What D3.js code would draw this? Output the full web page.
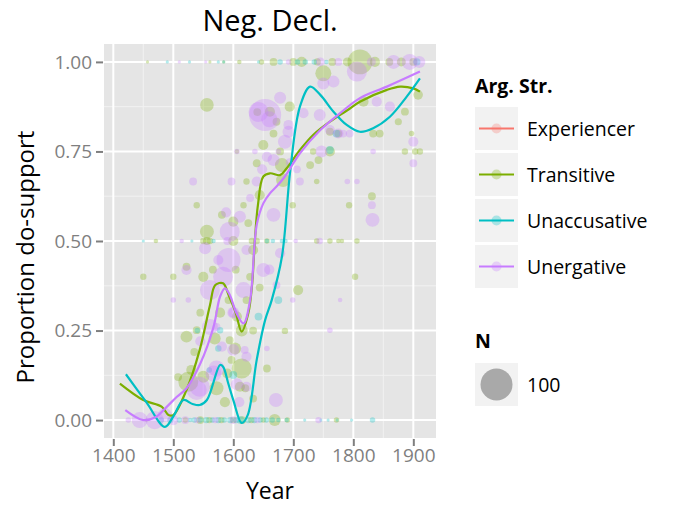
<!DOCTYPE html>
<html>
<head>
<meta charset="utf-8">
<script src="https://cdn.jsdelivr.net/npm/d3@7"></script>
<style>
  body { margin: 0; background: #fff; }
  svg { display: block; font-family: "Open Sans", Lato, sans-serif; }
</style>
</head>
<body>
<div id="chart"></div>
<script>
const title = 'Neg. Decl.'
const xTicks = [1400, 1500, 1600, 1700, 1800, 1900]
const yTicks = [0, 0.25, 0.5, 0.75, 1]
const categories = ['Experiencer', 'Transitive', 'Unaccusative', 'Unergative']
const colors = ['#F8766D', '#7CAE00', '#00BFC4', '#C77CFF']
const sizeLegend = [100]

// points: [year, proportion, N]
const experiencerPts = []
const transitivePts = [
  [1457, 1, 1], [1561, 1, 1], [1584, 1, 1], [1610, 1, 2], [1647, 1, 3], [1667, 1, 6], [1700, 1, 6], [1714, 1, 10],
  [1740, 1, 5], [1765, 1, 6], [1790, 1, 8], [1811, 1, 60], [1836, 1, 10], [1860, 1, 6], [1880, 1, 8], [1900, 1, 6],
  [1750, 0.968, 25], [1908, 0.908, 9], [1886, 0.861, 6], [1875, 0.833, 5], [1817, 0.889, 10], [1833, 0.8, 6],
  [1844, 0.8, 6], [1761, 0.805, 6], [1897, 0.8, 3], [1556, 0.88, 18], [1694, 0.875, 10], [1650, 0.768, 10],
  [1667, 0.8, 6], [1661, 0.861, 10], [1640, 0.86, 6], [1728, 0.712, 6], [1742, 0.726, 6], [1761, 0.75, 10],
  [1775, 0.8, 6], [1639, 0.717, 6], [1681, 0.712, 19], [1672, 0.833, 6], [1678, 0.75, 6],
  [1886, 0.75, 4], [1903, 0.75, 4], [1911, 0.75, 4], [1733, 0.75, 4], [1606, 0.75, 2],
  [1539, 0.6, 4], [1450, 0.4, 4], [1500, 0.4, 4], [1522, 0.428, 6], [1556, 0.526, 19], [1581, 0.573, 6],
  [1600, 0.554, 10], [1622, 0.666, 4], [1617, 0.6, 4], [1644, 0.628, 10], [1699, 0.6, 4], [1739, 0.666, 3],
  [1793, 0.6, 4], [1831, 0.625, 6], [1803, 0.4, 4], [1708, 0.363, 10], [1683, 0.67, 19],
  [1471, 0.5, 2], [1550, 0.5, 4], [1556, 0.5, 6], [1561, 0.5, 4], [1600, 0.5, 10], [1631, 0.5, 4], [1639, 0.5, 4],
  [1656, 0.5, 3], [1739, 0.5, 3], [1761, 0.5, 3], [1775, 0.5, 2], [1781, 0.5, 2], [1806, 0.5, 3],
  [1550, 0.4, 10], [1522, 0.233, 14], [1539, 0.251, 6], [1569, 0.228, 14], [1594, 0.223, 6], [1603, 0.2, 14],
  [1614, 0.25, 14], [1606, 0.289, 10], [1592, 0.335, 6], [1622, 0.335, 6], [1633, 0.25, 6], [1644, 0.37, 6],
  [1656, 0.144, 6], [1614, 0.144, 39], [1525, 0.107, 39], [1550, 0.121, 14], [1572, 0.089, 19], [1597, 0.168, 6],
  [1633, 0.475, 10], [1628, 0.4, 6], [1611, 0.093, 10], [1686, 0.249, 4], [1620, 0.089, 6], [1530, 0.14, 10],
  [1508, 0.12, 6], [1545, 0.3, 6], [1578, 0.3, 10], [1586, 0.05, 10], [1633, 0.06, 6], [1566, 0.42, 6],
  [1604, 0.42, 6], [1625, 0.55, 6], [1535, 0.19, 6], [1590, 0.13, 10],
  [1455, 0, 1], [1520, 0, 3], [1545, 0, 6], [1560, 0, 4], [1600, 0, 4], [1615, 0, 6], [1669, 0, 14], [1690, 0, 3],
  [1772, 0, 3], [1580, 0, 4], [1630, 0, 4], [1650, 0, 3]
]
const unaccusativePts = [
  [1480, 0, 3], [1495, 0, 4], [1510, 0, 3], [1528, 0, 2], [1535, 0, 3], [1545, 0, 3], [1555, 0, 4], [1565, 0, 3],
  [1575, 0, 4], [1585, 0, 3], [1595, 0, 4], [1605, 0, 4], [1612, 0, 6], [1625, 0, 4], [1635, 0, 4], [1645, 0, 3],
  [1655, 0, 3], [1665, 0, 3], [1675, 0, 2], [1689, 0, 2], [1719, 0, 1], [1746, 0, 1], [1758, 0, 1], [1773, 0, 1],
  [1797, 0, 1], [1832, 0, 3],
  [1450, 0.5, 1], [1531, 0.5, 1], [1567, 0.5, 2], [1656, 0.5, 2], [1666, 0.5, 2], [1681, 0.5, 2], [1687, 0.5, 2],
  [1490, 1, 1], [1527, 1, 1], [1575, 1, 1], [1584, 1, 1], [1642, 1, 1], [1678, 1, 3], [1707, 1, 3], [1720, 1, 3],
  [1735, 1, 3], [1755, 1, 2], [1906, 1, 5],
  [1675, 0.335, 6], [1578, 0.251, 4], [1575, 0.2, 4], [1642, 0.289, 6], [1600, 0.126, 6], [1772, 0.8, 6],
  [1761, 0.754, 6], [1540, 0.25, 3], [1560, 0.14, 3]
]
const unergativePts = [
  [1510, 1, 1], [1554, 1, 1], [1692, 1, 3], [1745, 1, 8], [1775, 1, 6], [1830, 1, 8], [1867, 1, 19], [1894, 1, 25],
  [1910, 1, 14],
  [1806, 0.973, 39], [1750, 0.94, 14], [1767, 0.945, 14], [1861, 0.875, 10], [1839, 0.889, 10], [1794, 0.8, 6],
  [1775, 0.8, 10], [1900, 0.777, 10], [1900, 0.717, 6],
  [1653, 0.852, 100], [1642, 0.86, 39], [1660, 0.84, 25], [1678, 0.9, 14], [1692, 0.805, 14], [1686, 0.777, 19],
  [1667, 0.726, 14], [1656, 0.735, 10], [1717, 0.857, 10], [1744, 0.852, 14], [1761, 0.81, 10], [1747, 0.75, 14],
  [1783, 0.8, 6], [1692, 0.824, 10], [1694, 0.72, 6], [1706, 0.7, 6], [1648, 0.7, 10],
  [1606, 0.75, 3], [1636, 0.75, 3], [1675, 0.75, 3], [1833, 0.75, 3],
  [1594, 0.526, 39], [1592, 0.447, 56], [1611, 0.568, 14], [1667, 0.573, 19], [1678, 0.466, 10], [1533, 0.666, 6],
  [1597, 0.666, 6], [1639, 0.666, 10], [1711, 0.666, 6], [1806, 0.666, 3], [1790, 0.666, 3], [1831, 0.6, 6],
  [1832, 0.559, 19], [1622, 0.475, 10], [1650, 0.419, 19], [1660, 0.42, 10], [1672, 0.377, 6], [1575, 0.447, 10],
  [1522, 0.419, 10], [1500, 0.335, 3], [1525, 0.335, 3], [1699, 0.335, 3], [1778, 0.335, 2], [1583, 0.4, 39],
  [1561, 0.363, 39], [1617, 0.363, 25], [1600, 0.3, 14], [1553, 0.48, 14],
  [1514, 0.5, 2], [1704, 0.5, 2], [1744, 0.5, 4], [1590, 0.5, 6],
  [1600, 0.196, 14], [1572, 0.144, 25], [1622, 0.177, 10], [1539, 0.084, 39], [1606, 0.1, 14], [1561, 0.26, 25],
  [1581, 0.205, 10], [1622, 0.093, 10], [1567, 0.13, 25], [1544, 0.093, 39], [1671, 0.056, 19], [1619, 0.196, 6],
  [1656, 0.2, 3], [1761, 0.251, 3], [1572, 0.26, 6], [1600, 0.3, 10], [1588, 0.58, 10], [1628, 0.62, 6],
  [1545, 0.22, 10], [1610, 0.05, 10],
  [1425, 0, 3], [1444, 0, 25], [1469, 0, 32], [1486, 0.014, 19], [1500, 0, 10], [1520, 0, 6], [1600, 0, 6], [1742, 0, 4],
  [1540, 0, 4], [1570, 0, 4], [1640, 0, 4]
]

// smoothed lines: [year, proportion]
const experiencerLine = []
const transitiveLine = [
  [1411, 0.102], [1450, 0.056], [1481, 0.037], [1492, 0.014], [1500, 0.014], [1522, 0.084], [1544, 0.196],
  [1561, 0.32], [1570, 0.377], [1583, 0.382], [1592, 0.35], [1604, 0.3], [1614, 0.247], [1625, 0.298],
  [1631, 0.372], [1636, 0.503], [1641, 0.6], [1650, 0.68], [1661, 0.689], [1678, 0.684], [1689, 0.703],
  [1711, 0.754], [1733, 0.796], [1761, 0.833], [1790, 0.865], [1811, 0.889], [1856, 0.922], [1878, 0.931],
  [1900, 0.926], [1911, 0.917]
]
const unaccusativeLine = [
  [1421, 0.128], [1455, 0.05], [1486, -0.019], [1500, 0.01], [1517, 0.056], [1532, 0.045], [1544, 0.042],
  [1556, 0.056], [1578, 0.154], [1583, 0.149], [1592, 0.1], [1600, 0.056], [1614, -0.008], [1624, 0.014],
  [1639, 0.168], [1653, 0.279], [1664, 0.335], [1681, 0.456], [1695, 0.698], [1711, 0.875], [1728, 0.931],
  [1745, 0.908], [1767, 0.861], [1789, 0.824], [1811, 0.805], [1833, 0.815], [1861, 0.847], [1889, 0.903],
  [1911, 0.954]
]
const unergativeLine = [
  [1420, 0.028], [1450, 0.0], [1470, 0.008], [1489, 0.037], [1506, 0.065], [1522, 0.089], [1545, 0.158],
  [1567, 0.26], [1578, 0.345], [1586, 0.368], [1594, 0.35], [1605, 0.3], [1617, 0.27], [1628, 0.335],
  [1639, 0.545], [1650, 0.605], [1661, 0.633], [1672, 0.652], [1686, 0.68], [1711, 0.745], [1745, 0.81],
  [1778, 0.857], [1811, 0.899], [1856, 0.931], [1911, 0.973]
]

const pointSets = [experiencerPts, transitivePts, unaccusativePts, unergativePts]
const lineSets = [experiencerLine, transitiveLine, unaccusativeLine, unergativeLine]

const width = 674, height = 508
const panel = { left: 104, right: 436, top: 44, bottom: 438 }

const x = d3.scaleLinear().domain([1384.5, 1937.8]).range([panel.left, panel.right])
const y = d3.scaleLinear().domain([-0.05, 1.05]).range([panel.bottom, panel.top])
const r = d3.scaleSqrt().domain([0, 100]).range([0, 16])
const color = d3.scaleOrdinal().domain(categories).range(colors)

const svg = d3.select('#chart').append('svg')
  .attr('width', width)
  .attr('height', height)
  .attr('viewBox', `0 0 ${width} ${height}`)

// panel background + grid
svg.append('rect')
  .attr('x', panel.left).attr('y', panel.top)
  .attr('width', panel.right - panel.left).attr('height', panel.bottom - panel.top)
  .attr('fill', '#e5e5e5')

const minorX = [1450, 1550, 1650, 1750, 1850]
const minorY = [0.125, 0.375, 0.625, 0.875]
const grid = svg.append('g')
grid.selectAll('.minx').data(minorX).join('line')
  .attr('x1', d => x(d)).attr('x2', d => x(d))
  .attr('y1', panel.top).attr('y2', panel.bottom)
  .attr('stroke', '#f2f2f2').attr('stroke-width', 1)
grid.selectAll('.miny').data(minorY).join('line')
  .attr('y1', d => y(d)).attr('y2', d => y(d))
  .attr('x1', panel.left).attr('x2', panel.right)
  .attr('stroke', '#f2f2f2').attr('stroke-width', 1)
grid.selectAll('.majx').data(xTicks).join('line')
  .attr('x1', d => x(d)).attr('x2', d => x(d))
  .attr('y1', panel.top).attr('y2', panel.bottom)
  .attr('stroke', '#fff').attr('stroke-width', 2)
grid.selectAll('.majy').data(yTicks).join('line')
  .attr('y1', d => y(d)).attr('y2', d => y(d))
  .attr('x1', panel.left).attr('x2', panel.right)
  .attr('stroke', '#fff').attr('stroke-width', 2)

// points
const pts = []
pointSets.forEach((set, i) => {
  set.forEach(p => pts.push({ year: p[0], prop: p[1], n: p[2], cat: categories[i] }))
})
svg.append('g').selectAll('circle')
  .data(pts)
  .join('circle')
  .attr('cx', d => x(d.year))
  .attr('cy', d => y(d.prop))
  .attr('r', d => Math.max(1.5, r(d.n)))
  .attr('fill', d => color(d.cat))
  .attr('fill-opacity', 0.3)

// smooth lines
const line = d3.line()
  .x(d => x(d[0]))
  .y(d => y(d[1]))
  .curve(d3.curveCatmullRom.alpha(0.5))
svg.append('g').selectAll('path')
  .data(lineSets.map((l, i) => ({ cat: categories[i], values: l })).filter(d => d.values.length))
  .join('path')
  .attr('d', d => line(d.values))
  .attr('fill', 'none')
  .attr('stroke', d => color(d.cat))
  .attr('stroke-width', 2.2)

// axes
const xAxis = svg.append('g')
  .attr('transform', `translate(0,${panel.bottom})`)
  .call(d3.axisBottom(x).tickValues(xTicks).tickFormat(d3.format('d')).tickSize(8).tickPadding(3))
const yAxis = svg.append('g')
  .attr('transform', `translate(${panel.left},0)`)
  .call(d3.axisLeft(y).tickValues(yTicks).tickFormat(d3.format('.2f')).tickSize(8).tickPadding(4))
;[xAxis, yAxis].forEach(a => {
  a.select('.domain').remove()
  a.selectAll('.tick line').attr('stroke', '#7f7f7f').attr('stroke-width', 2)
  a.selectAll('.tick text').attr('fill', '#7f7f7f').attr('font-size', 19).attr('font-family', '"Open Sans", sans-serif')
})
xAxis.selectAll('.tick line').attr('y1', 1)
yAxis.selectAll('.tick line').attr('x1', -1)

// titles
svg.append('text')
  .attr('x', (panel.left + panel.right) / 2).attr('y', 31)
  .attr('text-anchor', 'middle').attr('font-size', 29)
  .text(title)
svg.append('text')
  .attr('x', (panel.left + panel.right) / 2).attr('y', 499)
  .attr('text-anchor', 'middle').attr('font-size', 23)
  .text('Year')
svg.append('text')
  .attr('transform', `translate(34,${(panel.top + panel.bottom) / 2 + 16}) rotate(-90)`)
  .attr('text-anchor', 'middle').attr('font-size', 24)
  .text('Proportion do-support')

// legend: Arg. Str.
const legend = svg.append('g').attr('transform', 'translate(475,0)')
legend.append('text')
  .attr('x', 0).attr('y', 93)
  .attr('font-size', 19.5).attr('font-weight', 'bold')
  .text('Arg. Str.')
const keys = legend.selectAll('.key')
  .data(categories)
  .join('g')
  .attr('class', 'key')
  .attr('transform', (d, i) => `translate(0,${107 + i * 46})`)
keys.append('rect')
  .attr('width', 43).attr('height', 43)
  .attr('fill', '#f2f2f2')
keys.append('circle')
  .attr('cx', 21.5).attr('cy', 21.5).attr('r', 5)
  .attr('fill', d => color(d)).attr('fill-opacity', 0.3)
keys.append('line')
  .attr('x1', 4).attr('x2', 39)
  .attr('y1', 21.5).attr('y2', 21.5)
  .attr('stroke', d => color(d)).attr('stroke-width', 2.2)
keys.append('text')
  .attr('x', 52).attr('y', 28.5)
  .attr('font-size', 19.5)
  .text(d => d)

// legend: N
legend.append('text')
  .attr('x', 0).attr('y', 348)
  .attr('font-size', 19.5).attr('font-weight', 'bold')
  .text('N')
const nKeys = legend.selectAll('.nkey')
  .data(sizeLegend)
  .join('g')
  .attr('class', 'nkey')
  .attr('transform', (d, i) => `translate(0,${363 + i * 46})`)
nKeys.append('rect')
  .attr('width', 43).attr('height', 43)
  .attr('fill', '#f2f2f2')
nKeys.append('circle')
  .attr('cx', 21.5).attr('cy', 21.5).attr('r', d => r(d))
  .attr('fill', '#000').attr('fill-opacity', 0.3)
nKeys.append('text')
  .attr('x', 52).attr('y', 28.5)
  .attr('font-size', 19.5)
  .text(d => d)
</script>
</body>
</html>
